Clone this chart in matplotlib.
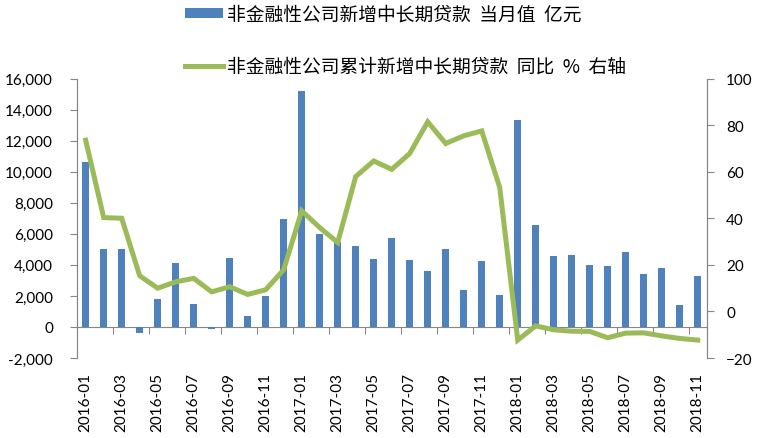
import matplotlib.pyplot as plt
import numpy as np

plt.rcParams['font.family'] = ['Lato', 'Noto Sans CJK SC', 'DejaVu Sans']

months = ['2016-01', '2016-02', '2016-03', '2016-04', '2016-05', '2016-06',
          '2016-07', '2016-08', '2016-09', '2016-10', '2016-11', '2016-12',
          '2017-01', '2017-02', '2017-03', '2017-04', '2017-05', '2017-06',
          '2017-07', '2017-08', '2017-09', '2017-10', '2017-11', '2017-12',
          '2018-01', '2018-02', '2018-03', '2018-04', '2018-05', '2018-06',
          '2018-07', '2018-08', '2018-09', '2018-10', '2018-11']

# 当月值 亿元 (left axis)
monthly_new = [10600, 5000, 5050, -400, 1800, 4100, 1500, -100, 4450, 700, 2000, 6950,
               15200, 6000, 5450, 5200, 4400, 5750, 4300, 3600, 5000, 2350, 4250, 2050,
               13300, 6550, 4600, 4650, 4000, 3950, 4850, 3400, 3800, 1400, 3250]

# 累计同比 % (right axis)
cum_yoy = [73.5, 40.3, 40.0, 15.3, 10.0, 12.7, 14.2, 8.4, 10.6, 7.3, 9.3, 17.9,
           43.2, 36.0, 29.6, 57.9, 64.6, 61.0, 67.8, 81.4, 72.1, 75.4, 77.5, 53.2,
           -12.3, -6.2, -7.9, -8.5, -8.6, -11.3, -9.3, -9.2, -10.5, -11.6, -12.3]

bar_label = '非金融性公司新增中长期贷款  当月值  亿元'
line_label = '非金融性公司累计新增中长期贷款  同比  %  右轴'

axis_color = '#868686'
x = np.arange(len(months))

fig = plt.figure(figsize=(7.57, 4.39), dpi=100)
ax = fig.add_axes([0.1013, 0.1822, 0.8323, 0.6367])
ax2 = ax.twinx()

bars = ax.bar(x, monthly_new, width=0.4, color='#4F81BD', label=bar_label, zorder=2)
line, = ax2.plot(x, cum_yoy, color='#9BBB59', linewidth=3.6, label=line_label,
                 solid_joinstyle='miter', zorder=3)

ax.set_xlim(-0.5, len(months) - 0.5)
ax.set_ylim(-2000, 16000)
ax.set_yticks(np.arange(-2000, 16001, 2000))
ax.set_yticklabels([f'{v:,}' for v in range(-2000, 16001, 2000)])
ax2.set_ylim(-20, 100)
ax2.set_yticks(np.arange(-20, 101, 20))

# category labels at the bottom, every second month
ax.set_xticks(x[::2])
ax.set_xticklabels(months[::2], rotation=90)
ax.tick_params(axis='x', length=0, pad=10, labelsize=11, colors='black')
ax.tick_params(axis='y', length=5, width=0.8, color=axis_color, pad=12, labelsize=11)
ax2.tick_params(axis='y', length=5, width=0.8, color=axis_color, pad=9, labelsize=11)

for a in (ax, ax2):
    a.spines['top'].set_visible(False)
    a.spines['bottom'].set_visible(False)
    a.spines['left'].set_color(axis_color)
    a.spines['right'].set_color(axis_color)

# horizontal axis line at zero with tick marks between month pairs
zero_frac = (0 - ax.get_ylim()[0]) / (ax.get_ylim()[1] - ax.get_ylim()[0])
sec = ax.secondary_xaxis(zero_frac)
sec.set_xticks(np.arange(1.5, len(months) - 1, 2))
sec.set_xticklabels([])
sec.tick_params(axis='x', direction='out', length=5, width=0.8, color=axis_color)
sec.spines['bottom'].set_color(axis_color)
sec.spines['bottom'].set_linewidth(0.8)

fig.legend([bars, line], [bar_label, line_label], loc='upper left',
           bbox_to_anchor=(185 / 757, 1 - 5 / 439), frameon=False,
           prop={'family': ['Noto Sans CJK SC', 'DejaVu Sans'], 'size': 13.5},
           handlelength=2.0, handleheight=0.43, handletextpad=0.25,
           labelspacing=1.65, borderpad=0, borderaxespad=0)

plt.savefig('out.png', dpi=100)
plt.close()
